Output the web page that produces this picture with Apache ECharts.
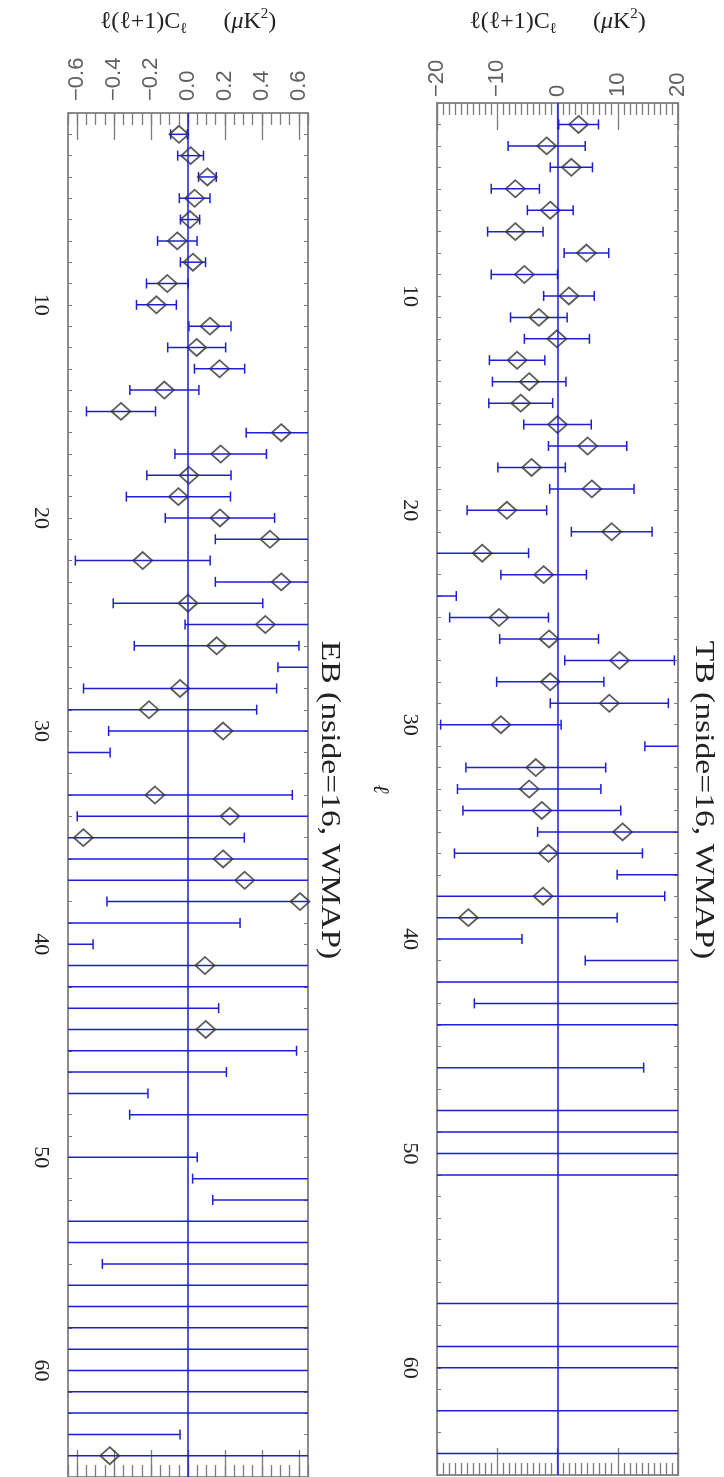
<!DOCTYPE html>
<html><head><meta charset="utf-8">
<script src="https://cdn.jsdelivr.net/npm/echarts@6/dist/echarts.min.js"></script>
<style>html,body{margin:0;padding:0;background:#fff}#c{width:724px;height:1477px}</style>
</head><body><div id="c"></div>
<script>
// multipole l = 2 .. 64
const ell = [2,3,4,5,6,7,8,9,10,11,12,13,14,15,16,17,18,19,20,21,22,23,24,25,26,27,28,29,30,31,32,33,
  34,35,36,37,38,39,40,41,42,43,44,45,46,47,48,49,50,51,52,53,54,55,56,57,58,59,60,61,62,63,64];

// TB spectrum (uK^2)
const tbValue = [3.5,-1.8,2.3,-7.0,-1.2,-7.0,4.8,-5.5,1.9,-3.1,
  -0.1,-6.7,-4.7,-6.1,0.0,5.0,-4.3,5.7,-8.4,9.0,
  -12.5,-2.3,-24.5,-9.7,-1.4,10.3,-1.2,8.6,-9.4,25.0,
  -3.6,-4.7,-2.6,10.8,-1.5,26.0,-2.4,-14.8,-30.0,30.0,
  -26.0,30.0,35.0,null,-30.0,null,-40.0,45.0,-38.0,42.0,
  null,null,null,null,null,50.0,null,-55.0,48.0,null,
  -50.0,null,60.0];
const tbError = [3.3,6.4,3.5,4.0,3.8,4.6,3.7,5.5,4.2,4.7,
  5.4,4.6,6.1,5.3,5.6,6.5,5.6,7.0,6.6,6.7,
  7.7,7.1,7.7,8.2,8.2,9.1,8.9,9.8,10.0,10.5,
  11.6,11.9,13.1,14.1,15.6,16.1,20.2,24.7,24.1,25.4,
  50.0,43.8,60.0,null,44.3,null,65.0,70.0,75.0,70.0,
  null,null,null,null,null,90.0,null,90.0,95.0,null,
  100.0,null,110.0];

// EB spectrum (uK^2)
const ebValue = [-0.049,0.014,0.105,0.036,0.011,-0.058,0.027,-0.112,-0.171,0.119,
  0.047,0.171,-0.128,-0.363,0.505,0.177,0.005,-0.052,0.173,0.444,
  -0.245,0.505,0.0,0.419,0.155,0.95,-0.043,-0.211,0.19,-1.0,
  null,-0.179,0.227,-0.567,0.19,0.307,0.607,-0.8,-1.6,0.092,
  -0.8,-1.0,0.096,-0.8,-1.2,-1.5,1.1,null,-1.5,1.5,
  1.6,0.9,-0.9,1.3,1.0,-1.0,1.1,-1.1,0.9,-0.9,
  1.2,-2.0,-0.424];
const ebError = [0.045,0.07,0.048,0.083,0.052,0.107,0.068,0.113,0.108,0.114,
  0.157,0.136,0.187,0.187,0.19,0.248,0.228,0.282,0.296,0.296,
  0.365,0.357,0.405,0.435,0.446,0.463,0.523,0.583,0.62,0.578,
  null,0.744,0.827,0.872,0.90,0.98,1.046,1.082,1.086,1.2,
  1.6,1.166,1.3,1.388,1.408,1.283,1.416,null,1.55,1.475,
  1.466,1.7,1.7,1.764,1.8,1.8,1.9,1.9,1.9,2.0,
  2.0,1.957,2.0];

const tbTicks = [-20,-10,0,10,20];
const ebTicks = [-0.6,-0.4,-0.2,0.0,0.2,0.4,0.6];
const ellLabels = [10,20,30,40,50,60];

const BLUE = '#1e1ed2';
const FRAME = '#8c8c8c';
const TICK = '#7c7c7c';
const SERIF = '"Liberation Serif","DejaVu Serif",serif';
const SANS = '"Liberation Sans","DejaVu Sans",sans-serif';

function rows(vals, errs) {
  const out = [];
  ell.forEach((l, i) => { if (vals[i] !== null) out.push([vals[i], l, errs[i]]); });
  return out;
}
const minus = s => String(s).replace('-', '\u2212');
const frameLine = (show) => ({show: show, onZero: false, lineStyle: {color: FRAME, width: 2}});

const axisName = {
  name: '{t|\u2113(\u2113+1)C}{s|\u2113}{t|      (}{m|\u03bc}{t|K}{p|2}{t|)}',
  nameLocation: 'middle', nameRotate: 0, nameMoveOverlap: false,
  nameTextStyle: {rich: {
    t: {fontFamily: SERIF, fontSize: 24, color: '#222', lineHeight: 30},
    m: {fontFamily: SERIF, fontSize: 24, fontStyle: 'italic', color: '#222', lineHeight: 30},
    s: {fontFamily: SERIF, fontSize: 15, color: '#222', lineHeight: 18, verticalAlign: 'bottom'},
    p: {fontFamily: SERIF, fontSize: 15, color: '#222', lineHeight: 18, verticalAlign: 'top'}
  }}
};

function ellAxis(grid, pos, labels) {
  return {
    gridIndex: grid, type: 'value', position: pos, min: 1, max: 65, interval: 1, inverse: true,
    axisLine: frameLine(true), splitLine: {show: false},
    axisTick: {show: true, inside: true, length: 4, lineStyle: {color: TICK, width: 1}},
    axisLabel: {show: labels, rotate: -90, margin: 16, fontFamily: SERIF, fontSize: 22, color: '#222',
      customValues: ellLabels, formatter: v => String(v)}
  };
}

function tbAxis(pos, labels) {
  const a = {
    gridIndex: 0, type: 'value', position: pos, min: -20, max: 20, interval: 10,
    axisLine: frameLine(true), splitLine: {show: false},
    axisTick: {show: true, inside: true, length: 27, lineStyle: {color: TICK, width: 1.3}},
    minorTick: {show: true, splitNumber: 10, length: 12, lineStyle: {color: TICK, width: 1.3}},
    axisLabel: {show: labels, rotate: -90, margin: 6, fontFamily: SANS, fontSize: 22, color: '#606060',
      customValues: tbTicks, formatter: v => minus(v)}
  };
  if (labels) Object.assign(a, axisName, {nameGap: 66});
  return a;
}

function ebAxis(pos, major, labels) {
  const a = {
    gridIndex: 1, type: 'value', position: pos, min: -0.65, max: 0.65, interval: 0.05,
    axisLine: frameLine(!major), splitLine: {show: false},
    axisTick: major
      ? {show: true, inside: true, length: 27, customValues: ebTicks, lineStyle: {color: TICK, width: 1.3}}
      : {show: true, inside: true, length: 12, lineStyle: {color: TICK, width: 1.3}},
    axisLabel: {show: labels, rotate: -90, margin: 12, fontFamily: SANS, fontSize: 22, color: '#606060',
      customValues: ebTicks, formatter: v => minus(Number(v).toFixed(1))}
  };
  if (labels) Object.assign(a, axisName, {nameGap: 76});
  return a;
}

function errRender(params, api) {
  const v = api.value(0), l = api.value(1), e = api.value(2);
  const p1 = api.coord([v - e, l]);
  const p2 = api.coord([v + e, l]);
  const c = 5;
  const st = {stroke: BLUE, lineWidth: 1.5, fill: null};
  return {type: 'group', children: [
    {type: 'line', shape: {x1: p1[0], y1: p1[1], x2: p2[0], y2: p2[1]}, style: st},
    {type: 'line', shape: {x1: p1[0], y1: p1[1] - c, x2: p1[0], y2: p1[1] + c}, style: st},
    {type: 'line', shape: {x1: p2[0], y1: p2[1] - c, x2: p2[0], y2: p2[1] + c}, style: st}
  ]};
}

const zeroLine = {
  silent: true, symbol: ['none', 'none'], label: {show: false}, animation: false,
  lineStyle: {color: BLUE, width: 1.5, type: 'solid'}, data: [{xAxis: 0}]
};

const diamond = (xi, yi, vals) => ({
  type: 'scatter', xAxisIndex: xi, yAxisIndex: yi, clip: true, z: 4,
  symbol: 'diamond', symbolSize: [19, 17],
  itemStyle: {color: 'rgba(0,0,0,0)', borderColor: '#333', borderWidth: 1.8},
  data: rows(vals, vals).map(r => [r[0], r[1]]),
  markLine: zeroLine
});

const chart = echarts.init(document.getElementById('c'), null, {renderer: 'canvas'});
chart.setOption({
  animation: false,
  backgroundColor: '#fff',
  grid: [
    {left: 437, top: 103, width: 241, height: 1372, containLabel: false, outerBoundsMode: 'none'},
    {left: 68, top: 113, width: 240, height: 1364, containLabel: false, outerBoundsMode: 'none'}
  ],
  xAxis: [
    tbAxis('top', true), tbAxis('bottom', false),
    ebAxis('top', false, true), ebAxis('top', true, false),
    ebAxis('bottom', false, false), ebAxis('bottom', true, false)
  ],
  yAxis: [
    Object.assign(ellAxis(0, 'left', true), {name: '\u2113', nameLocation: 'middle', nameGap: 46,
      nameRotate: -90, nameMoveOverlap: false,
      nameTextStyle: {fontFamily: SERIF, fontStyle: 'italic', fontSize: 22, color: '#222'}}),
    ellAxis(0, 'right', false),
    ellAxis(1, 'left', true),
    ellAxis(1, 'right', false)
  ],
  graphic: [
    {type: 'text', x: 703, y: 800, rotation: -Math.PI / 2, scaleX: 1.2,
      style: {text: 'TB (nside=16, WMAP)', fontFamily: SERIF, fontSize: 28, fill: '#222',
        align: 'center', verticalAlign: 'middle', textAlign: 'center', textVerticalAlign: 'middle'}},
    {type: 'text', x: 329, y: 800, rotation: -Math.PI / 2, scaleX: 1.2,
      style: {text: 'EB (nside=16, WMAP)', fontFamily: SERIF, fontSize: 28, fill: '#222',
        align: 'center', verticalAlign: 'middle', textAlign: 'center', textVerticalAlign: 'middle'}}
  ],
  series: [
    {type: 'custom', xAxisIndex: 0, yAxisIndex: 0, clip: true, z: 3, renderItem: errRender,
      encode: {x: 0, y: 1}, data: rows(tbValue, tbError)},
    diamond(0, 0, tbValue),
    {type: 'custom', xAxisIndex: 2, yAxisIndex: 2, clip: true, z: 3, renderItem: errRender,
      encode: {x: 0, y: 1}, data: rows(ebValue, ebError)},
    diamond(2, 2, ebValue)
  ]
});
</script></body></html>
